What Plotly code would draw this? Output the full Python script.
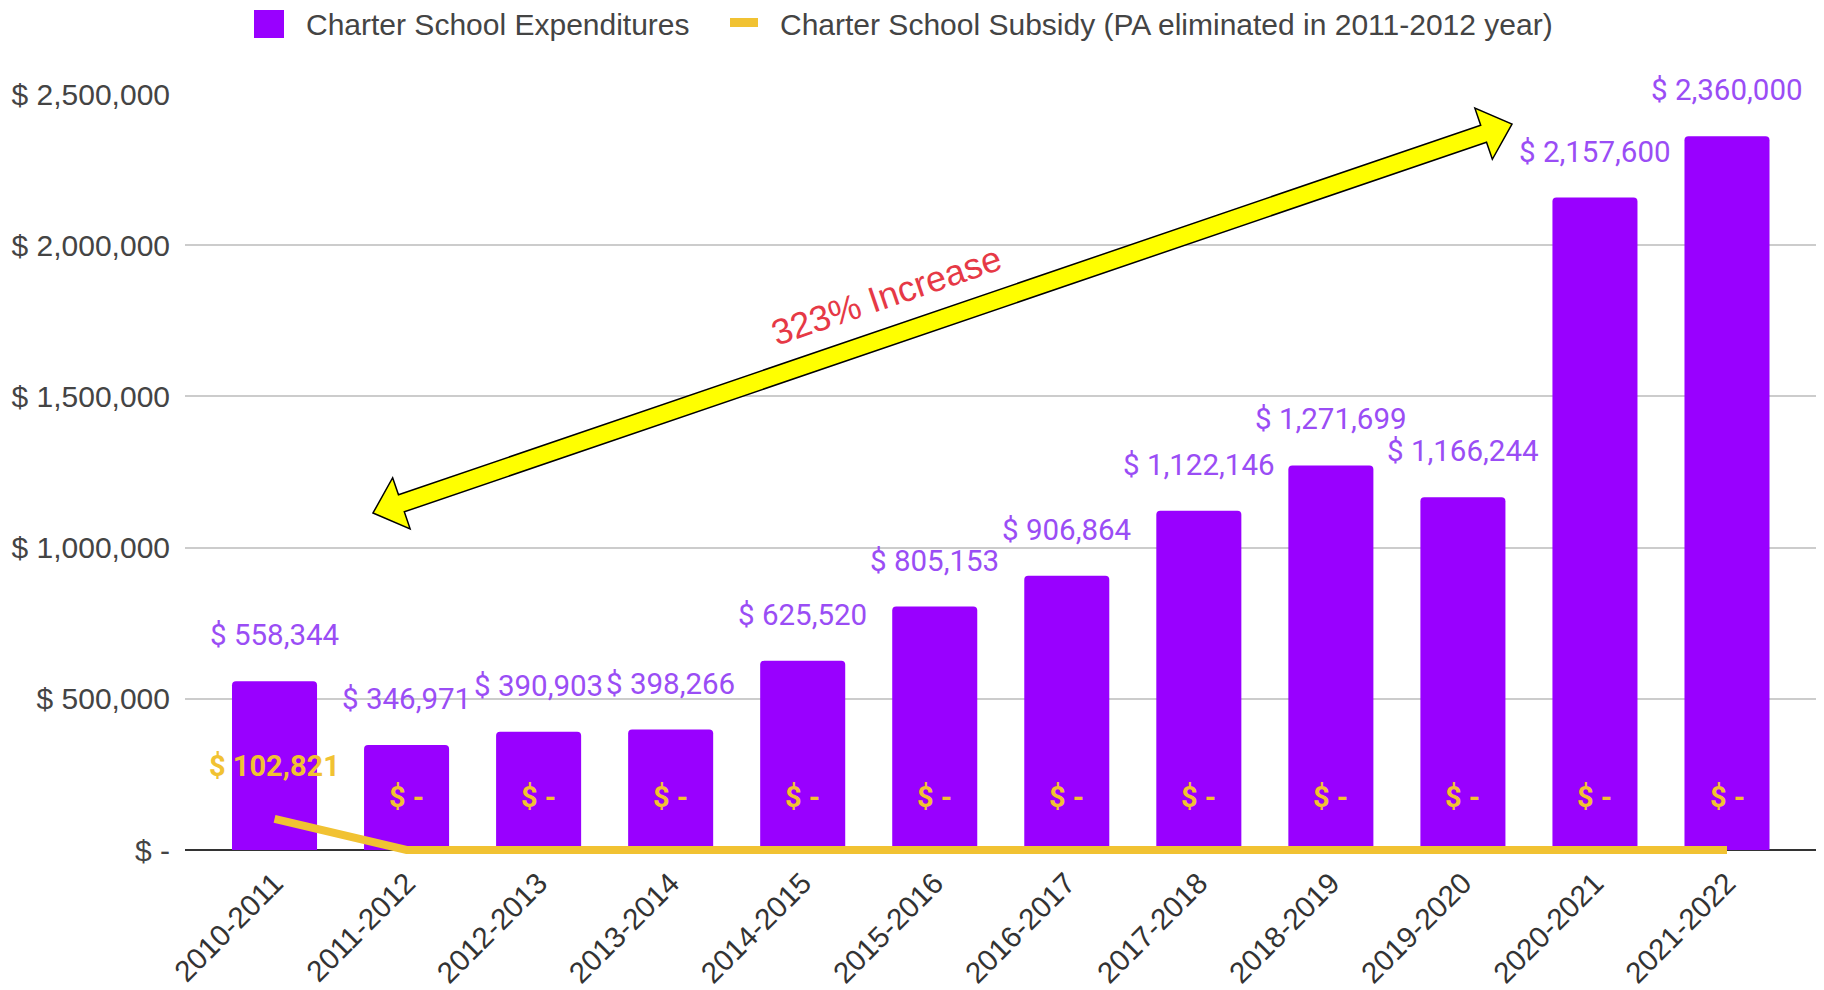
import math
import plotly.graph_objects as go

# ---------------- data ----------------
years = ["2010-2011", "2011-2012", "2012-2013", "2013-2014", "2014-2015", "2015-2016",
         "2016-2017", "2017-2018", "2018-2019", "2019-2020", "2020-2021", "2021-2022"]
expenditures = [558344, 346971, 390903, 398266, 625520, 805153,
                906864, 1122146, 1271699, 1166244, 2157600, 2360000]
subsidy = [102821, 0, 0, 0, 0, 0, 0, 0, 0, 0, 0, 0]
y_tickvals = [0, 500000, 1000000, 1500000, 2000000, 2500000]
y_ticktext = ["$ -", "$ 500,000", "$ 1,000,000", "$ 1,500,000", "$ 2,000,000", "$ 2,500,000"]
series_names = ["Charter School Expenditures",
                "Charter School Subsidy (PA eliminated in 2011-2012 year)"]
annotation_text = "323% Increase"

# ---------------- styling ----------------
PURPLE = "#9900FF"
PURPLE_LABEL = "#9A4DF5"
GOLD = "#F1C232"
AXIS_FONT = "Liberation Sans, Arial, sans-serif"
LABEL_FONT = "Roboto, Liberation Sans, sans-serif"

W_FIG, H_FIG = 1824, 990
L, R, T, B = 185, 1816, 94, 855
PW, PH = R - L, B - T


def pxx(x):
    return (x - L) / PW


def pxy(y):
    return (B - y) / PH


def fmt(v):
    return f"$ {v:,}" if v > 0 else "$ -"


fig = go.Figure()
fig.add_trace(go.Bar(
    x=years, y=expenditures, name=series_names[0],
    marker=dict(color=PURPLE, line=dict(width=0), cornerradius=4),
    showlegend=False, hoverinfo="x+y",
))
fig.add_trace(go.Scatter(
    x=years, y=subsidy, name=series_names[1], mode="lines",
    line=dict(color=GOLD, width=8), showlegend=False,
))

annotations = []
for yr, v in zip(years, expenditures):
    annotations.append(dict(x=yr, y=v, xref="x", yref="y", text=fmt(v), showarrow=False,
                            yanchor="middle", xanchor="center", yshift=46,
                            font=dict(family=LABEL_FONT, size=29.5, color=PURPLE_LABEL)))
for yr, v in zip(years, subsidy):
    annotations.append(dict(x=yr, y=v, xref="x", yref="y", text="<b>" + fmt(v) + "</b>",
                            showarrow=False, yanchor="middle", xanchor="center", yshift=53,
                            font=dict(family=LABEL_FONT, size=29, color=GOLD)))

# custom legend
shapes = []
shapes.append(dict(type="rect", xref="paper", yref="paper",
                   x0=pxx(254), x1=pxx(284), y0=pxy(38), y1=pxy(10),
                   fillcolor=PURPLE, line=dict(width=0)))
shapes.append(dict(type="rect", xref="paper", yref="paper",
                   x0=pxx(730), x1=pxx(758), y0=pxy(27), y1=pxy(18),
                   fillcolor=GOLD, line=dict(width=0)))
annotations.append(dict(x=pxx(304), y=pxy(24), xref="paper", yref="paper", text=series_names[0],
                        showarrow=False, xanchor="left", yanchor="middle",
                        font=dict(family=AXIS_FONT, size=30, color="#444444")))
annotations.append(dict(x=pxx(778), y=pxy(24), xref="paper", yref="paper", text=series_names[1],
                        showarrow=False, xanchor="left", yanchor="middle",
                        font=dict(family=AXIS_FONT, size=30, color="#444444")))

# double-headed block arrow (drawn overlay)
ax_, ay_ = 373, 513
bx_, by_ = 1512, 124
dx, dy = bx_ - ax_, by_ - ay_
ln = math.hypot(dx, dy)
ux, uy = dx / ln, dy / ln
nx, ny = -uy, ux
hl, hw, sw = 30, 27, 9


def pt(x, y):
    return f"{pxx(x):.5f},{pxy(y):.5f}"


pts = [
    (ax_, ay_),
    (ax_ + ux * hl + nx * hw, ay_ + uy * hl + ny * hw),
    (ax_ + ux * hl + nx * sw, ay_ + uy * hl + ny * sw),
    (bx_ - ux * hl + nx * sw, by_ - uy * hl + ny * sw),
    (bx_ - ux * hl + nx * hw, by_ - uy * hl + ny * hw),
    (bx_, by_),
    (bx_ - ux * hl - nx * hw, by_ - uy * hl - ny * hw),
    (bx_ - ux * hl - nx * sw, by_ - uy * hl - ny * sw),
    (ax_ + ux * hl - nx * sw, ay_ + uy * hl - ny * sw),
    (ax_ + ux * hl - nx * hw, ay_ + uy * hl - ny * hw),
]
path = "M " + " L ".join(pt(x, y) for x, y in pts) + " Z"
shapes.append(dict(type="path", xref="paper", yref="paper", path=path,
                   fillcolor="#FFFF00", line=dict(color="#000000", width=1.5), layer="above"))
angle = math.degrees(math.atan2(dy, dx))
annotations.append(dict(x=pxx(886), y=pxy(295), xref="paper", yref="paper", text=annotation_text,
                        showarrow=False, xanchor="center", yanchor="middle", textangle=angle,
                        font=dict(family=AXIS_FONT, size=36, color="#E63946")))

ymin = -(B - 850) / (850 - T) * 2500000
fig.update_layout(
    width=W_FIG, height=H_FIG,
    margin=dict(l=L, r=W_FIG - R, t=T, b=H_FIG - B, pad=0, autoexpand=False),
    paper_bgcolor="white", plot_bgcolor="white",
    bargap=0.356,
    showlegend=False,
    shapes=shapes,
    annotations=annotations,
    xaxis=dict(type="category", range=[-0.678, 11.674], tickangle=-45,
               tickfont=dict(family=AXIS_FONT, size=29.5, color="#333333"),
               showgrid=False, zeroline=False, showline=False, ticks="",
               ticklabelstandoff=4, automargin=False),
    yaxis=dict(range=[ymin, 2500000], tickvals=y_tickvals, ticktext=y_ticktext,
               tickfont=dict(family=AXIS_FONT, size=30, color="#444444"),
               showgrid=True, gridcolor="#CCCCCC", gridwidth=1.5,
               zeroline=True, zerolinecolor="#333333", zerolinewidth=2,
               showline=False, ticks="", ticklabelstandoff=14, automargin=False),
)

fig.write_html("out.html")
